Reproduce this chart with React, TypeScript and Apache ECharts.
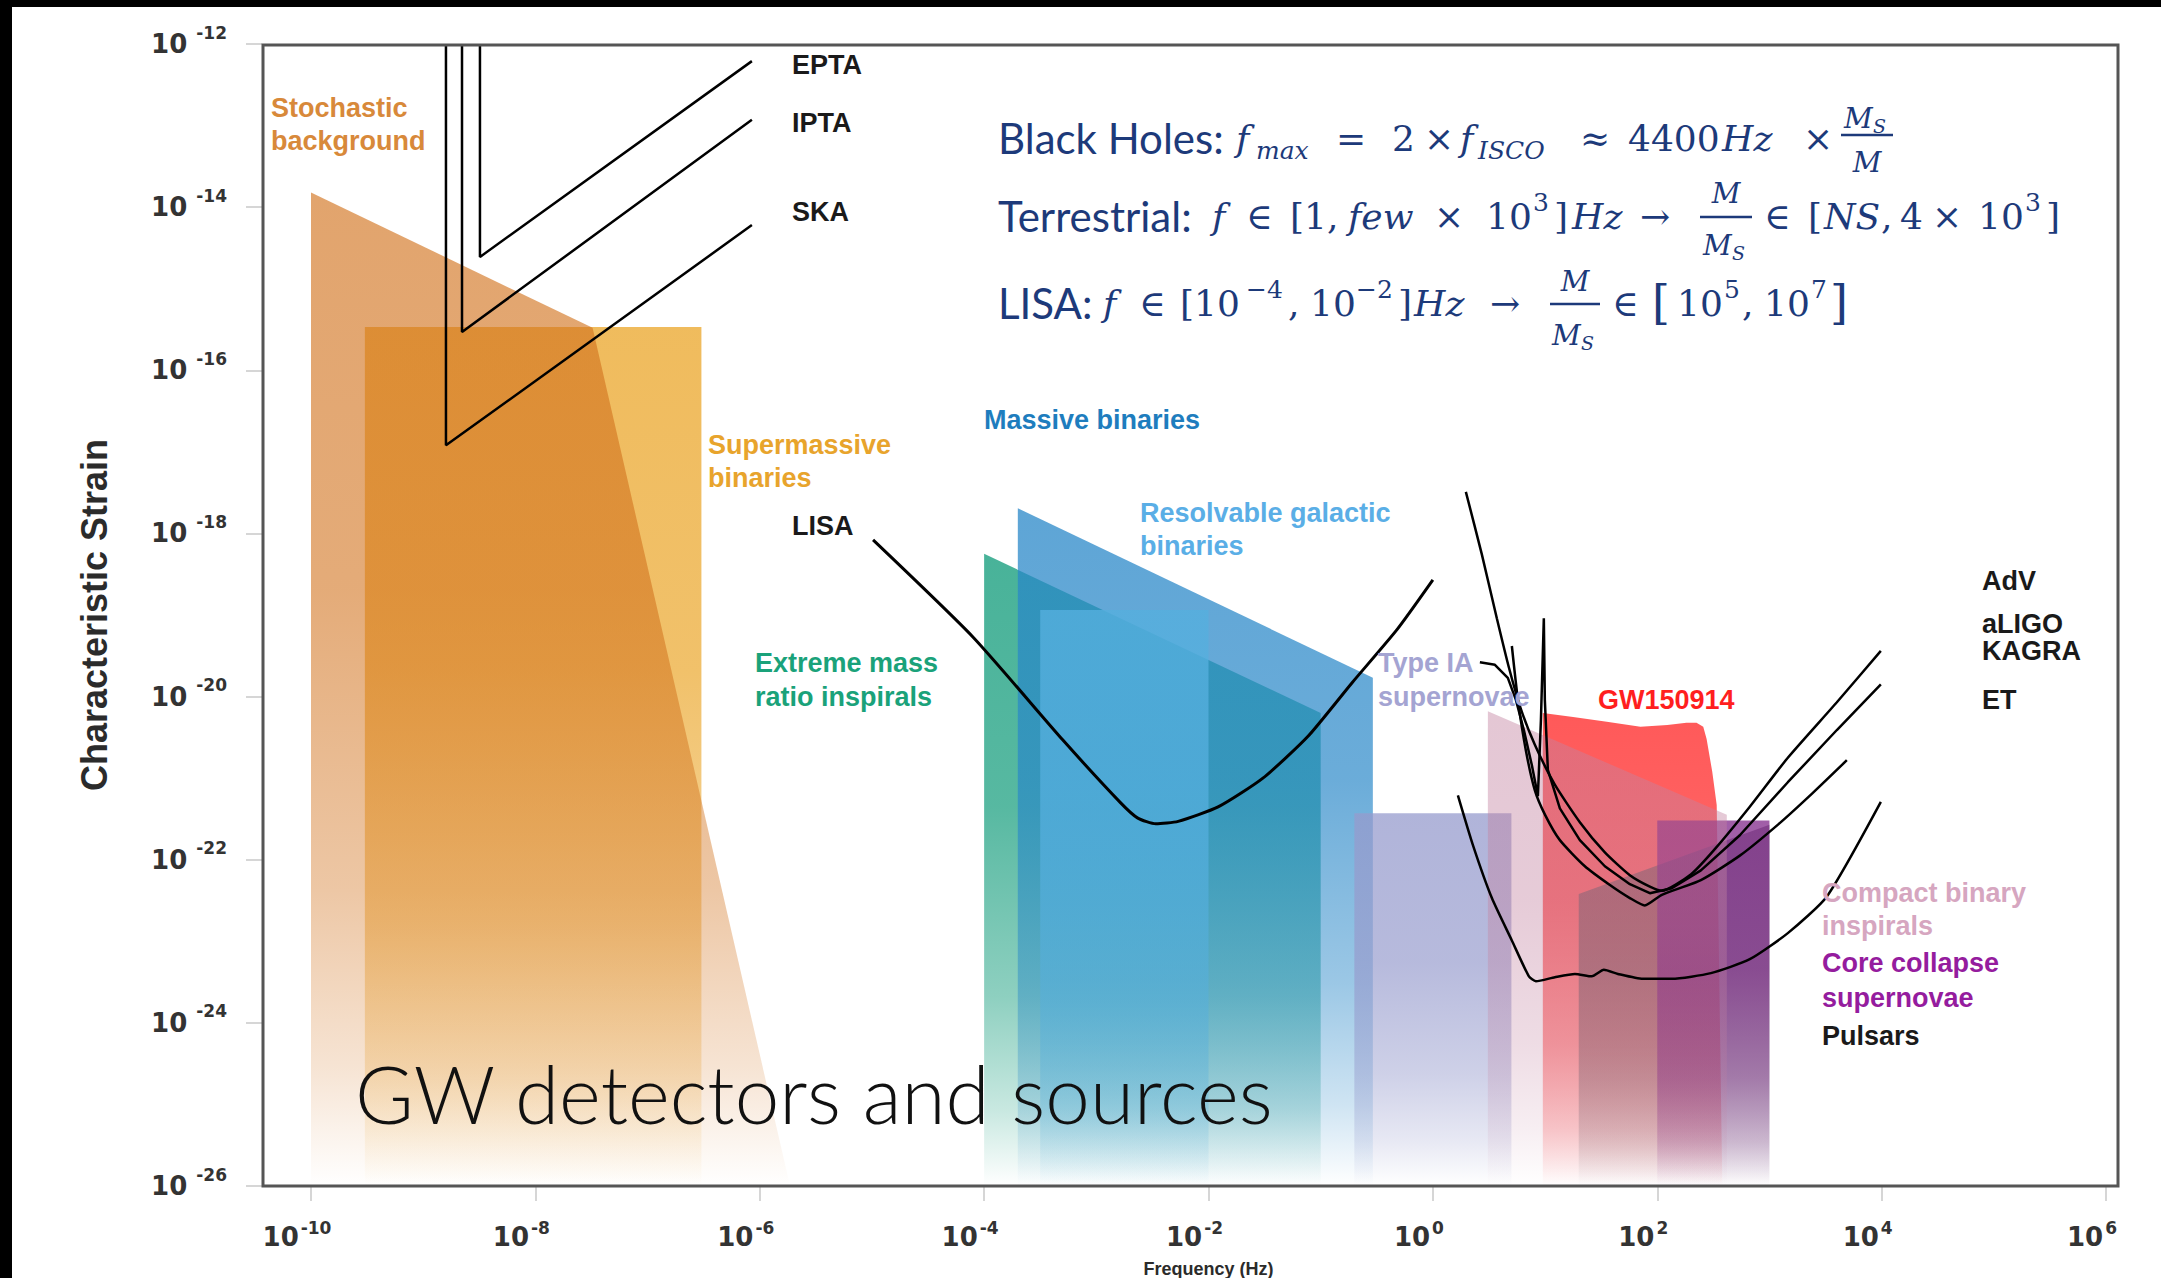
import React, { useEffect, useRef } from "react";
import * as echarts from "echarts";

// ---------- Axes (log10 values) ----------
const freqExponents = [-10, -8, -6, -4, -2, 0, 2, 4, 6];
const strainExponents = [-26, -24, -22, -20, -18, -16, -14, -12];

// ---------- Source regions: [log10 f (Hz), log10 h_c] ----------
const stochasticBackground = [[-10, -13.82], [-7.49, -15.48], [-5.73, -26], [-10, -26]];
const supermassiveBinaries = [[-9.52, -15.47], [-6.52, -15.47], [-6.52, -26], [-9.52, -26]];
const extremeMassRatio = [[-4, -18.25], [-1, -20.2], [-1, -26], [-4, -26]];
const massiveBinaries = [[-3.7, -17.69], [-0.535, -19.77], [-0.535, -26], [-3.7, -26]];
const resolvableGalactic = [[-3.5, -18.94], [-2.0, -18.94], [-2.0, -26], [-3.5, -26]];
const typeIASupernovae = [[-0.7, -21.43], [0.7, -21.43], [0.7, -26], [-0.7, -26]];
const gw150914 = [
  [0.98, -20.2], [1.25, -20.25], [1.55, -20.31], [1.85, -20.37], [2.09, -20.35],
  [2.26, -20.32], [2.35, -20.32], [2.41, -20.37], [2.44, -20.52], [2.49, -20.92],
  [2.53, -21.33], [2.58, -26], [0.98, -26],
];
const compactBinary = [[0.49, -20.18], [2.62, -21.45], [2.62, -26], [0.49, -26]];
const pulsars = [[1.3, -22.42], [3.0, -21.57], [3.0, -26], [1.3, -26]];
const coreCollapse = [[2.0, -21.52], [3.0, -21.52], [3.0, -26], [2.0, -26]];

// ---------- Detector sensitivity curves ----------
const epta = [[-8.494, -12], [-8.494, -14.61], [-6.07, -12.21]];
const ipta = [[-8.654, -12], [-8.654, -15.53], [-6.07, -12.93]];
const ska = [[-8.797, -12], [-8.797, -16.92], [-6.07, -14.22]];
const lisa = [
  [-4.99, -18.08], [-4.1, -19.27], [-3.3, -20.53], [-2.785, -21.3], [-2.63, -21.49],
  [-2.47, -21.56], [-2.27, -21.53], [-1.91, -21.35], [-1.515, -21.0], [-1.115, -20.49],
  [-0.72, -19.83], [-0.32, -19.18], [0.0, -18.57],
];
const adv = [
  [0.294, -17.49], [0.437, -18.26], [0.57, -19.04], [0.677, -19.64], [0.784, -20.15],
  [0.909, -20.59], [1.087, -21.08], [1.31, -21.54], [1.533, -21.91], [1.756, -22.19],
  [1.934, -22.33], [2.041, -22.38], [2.299, -22.18], [2.513, -21.87], [2.825, -21.35],
  [3.164, -20.75], [3.601, -20.07], [3.993, -19.44],
];
const aligo = [
  [0.419, -19.58], [0.553, -19.61], [0.668, -19.77], [0.74, -20.04], [0.811, -20.41],
  [0.882, -20.84], [0.936, -21.22], [0.963, -20.29], [0.989, -19.04], [0.998, -20.04],
  [1.025, -20.9], [1.132, -21.37], [1.31, -21.76], [1.533, -22.08], [1.756, -22.3],
  [1.934, -22.41], [2.13, -22.35], [2.389, -22.13], [2.736, -21.7], [3.164, -21.05],
  [3.601, -20.41], [3.993, -19.85],
];
const kagra = [
  [0.704, -19.38], [0.758, -20.04], [0.829, -20.66], [0.909, -21.15], [1.0, -21.45],
  [1.132, -21.76], [1.355, -22.08], [1.578, -22.31], [1.756, -22.47], [1.889, -22.56],
  [2.041, -22.43], [2.389, -22.25], [2.736, -21.95], [3.084, -21.56], [3.387, -21.18],
  [3.69, -20.78],
];
const et = [
  [0.223, -21.21], [0.357, -21.82], [0.526, -22.47], [0.704, -22.99], [0.856, -23.43],
  [0.918, -23.49], [1.087, -23.44], [1.266, -23.4], [1.417, -23.43], [1.524, -23.35],
  [1.649, -23.4], [1.872, -23.46], [2.13, -23.46], [2.478, -23.39], [2.825, -23.22],
  [3.164, -22.9], [3.512, -22.45], [3.993, -21.29],
];

// ---------- helpers ----------
const rgba = (c: number[], a: number) => `rgba(${c[0]},${c[1]},${c[2]},${a})`;
const fade = (c: number[], a: number) =>
  new echarts.graphic.LinearGradient(0, 0, 0, 1, [
    { offset: 0, color: rgba(c, a) },
    { offset: 0.4, color: rgba(c, a * 0.92) },
    { offset: 0.7, color: rgba(c, a * 0.62) },
    { offset: 0.88, color: rgba(c, a * 0.3) },
    { offset: 1, color: rgba(c, 0) },
  ]);

const area = (name: string, pts: number[][], c: number[], a: number) => ({
  type: "custom",
  name,
  coordinateSystem: "cartesian2d",
  silent: true,
  z: 2,
  data: pts,
  encode: { x: 0, y: 1 },
  renderItem: (params: any, api: any) => {
    if (params.dataIndex !== 0) return null;
    return {
      type: "polygon",
      shape: { points: pts.map((p) => api.coord(p)) },
      style: { fill: fade(c, a) },
    };
  },
});

const curve = (name: string, pts: number[][], w: number, smooth: number | boolean) => ({
  type: "line",
  name,
  data: pts,
  symbol: "none",
  showSymbol: false,
  smooth,
  z: 5,
  silent: true,
  clip: false,
  lineStyle: { color: "#000", width: w },
});

const txt = (x: number, y: number, text: string, font: string, fill: string, align = "left") => ({
  type: "text",
  z: 50,
  silent: true,
  style: {
    text, x, y, font, fill,
    align, verticalAlign: "middle",
    textAlign: align, textVerticalAlign: "middle",
  },
});

const LBL = 'bold 27px "Liberation Sans", Arial, sans-serif';
const NAVY = "#1d3a7a";
const F_SANS = '42px Lato, "Open Sans", sans-serif';
const F_M = '36px "DejaVu Serif", serif';
const F_I = 'italic 36px "DejaVu Serif", serif';
const F_SUB = 'italic 25px "DejaVu Serif", serif';
const F_SUP = '25px "DejaVu Serif", serif';
const F_BR = '46px "DejaVu Serif", serif';
const F_FR = 'italic 28px "DejaVu Serif", serif';
const F_FRS = 'italic 19px "DejaVu Serif", serif';

const plotLabels: [number, number, string, string][] = [
  [271, 108, "Stochastic", "#d8893a"],
  [271, 141, "background", "#d8893a"],
  [792, 65, "EPTA", "#1a1a1a"],
  [792, 123, "IPTA", "#1a1a1a"],
  [792, 212, "SKA", "#1a1a1a"],
  [708, 445, "Supermassive", "#e8a42c"],
  [708, 478, "binaries", "#e8a42c"],
  [792, 526, "LISA", "#1a1a1a"],
  [984, 420, "Massive binaries", "#1e7dbe"],
  [1140, 513, "Resolvable galactic", "#5aaee6"],
  [1140, 546, "binaries", "#5aaee6"],
  [755, 663, "Extreme mass", "#1aa27a"],
  [755, 697, "ratio inspirals", "#1aa27a"],
  [1378, 663, "Type IA", "#a4a4d2"],
  [1378, 697, "supernovae", "#a4a4d2"],
  [1598, 700, "GW150914", "#ff1f1f"],
  [1822, 893, "Compact binary", "#d6a6c0"],
  [1822, 926, "inspirals", "#d6a6c0"],
  [1822, 963, "Core collapse", "#951c9e"],
  [1822, 998, "supernovae", "#951c9e"],
  [1822, 1036, "Pulsars", "#1a1a1a"],
  [1982, 581, "AdV", "#1a1a1a"],
  [1982, 624, "aLIGO", "#1a1a1a"],
  [1982, 651, "KAGRA", "#1a1a1a"],
  [1982, 700, "ET", "#1a1a1a"],
];

const c1 = 138, c2 = 216, c3 = 303;
const formulaPieces: [number, number, string, string][] = [
  [998, c1, "Black Holes:", F_SANS],
  [1236, c1, "f", F_I], [1256, c1 + 12, "max", F_SUB],
  [1336, c1, "=", F_M], [1392, c1, "2", F_M], [1424, c1, "×", F_M],
  [1460, c1, "f", F_I], [1478, c1 + 12, "ISCO", F_SUB],
  [1580, c1, "≈", F_M], [1628, c1, "4400", F_M], [1722, c1, "Hz", F_I], [1803, c1, "×", F_M],

  [998, c2, "Terrestrial:", F_SANS],
  [1212, c2, "f", F_I], [1246, c2, "∈", F_M], [1290, c2, "[1,", F_M], [1348, c2, "few", F_I],
  [1434, c2, "×", F_M], [1486, c2, "10", F_M], [1533, c2 - 14, "3", F_SUP], [1554, c2, "]", F_M],
  [1572, c2, "Hz", F_I], [1640, c2, "→", F_M],
  [1764, c2, "∈", F_M], [1808, c2, "[", F_M], [1824, c2, "NS", F_I], [1881, c2, ",", F_M],
  [1900, c2, "4", F_M], [1932, c2, "×", F_M], [1978, c2, "10", F_M], [2025, c2 - 14, "3", F_SUP],
  [2046, c2, "]", F_M],

  [998, c3, "LISA:", F_SANS],
  [1103, c3, "f", F_I], [1139, c3, "∈", F_M], [1180, c3, "[10", F_M], [1246, c3 - 14, "−4", F_SUP],
  [1288, c3, ",", F_M], [1310, c3, "10", F_M], [1356, c3 - 14, "−2", F_SUP], [1398, c3, "]", F_M],
  [1414, c3, "Hz", F_I], [1490, c3, "→", F_M],
  [1612, c3, "∈", F_M], [1652, c3, "[", F_BR], [1677, c3, "10", F_M], [1724, c3 - 14, "5", F_SUP],
  [1742, c3, ",", F_M], [1764, c3, "10", F_M], [1811, c3 - 14, "7", F_SUP], [1830, c3, "]", F_BR],
];

// fraction: cx, numerator y, bar y, denominator y, bar half-width, numerator has subscript S
const fractions: [number, number, number, number, number, boolean][] = [
  [1867, 118, 135, 162, 26, true],
  [1726, 193, 217, 245, 26, false],
  [1575, 281, 304, 335, 25, false],
];

function buildGraphics() {
  const els: any[] = [];
  els.push({ type: "rect", z: 60, silent: true, shape: { x: 0, y: 0, width: 2161, height: 7 }, style: { fill: "#000" } });
  els.push({ type: "rect", z: 60, silent: true, shape: { x: 0, y: 0, width: 12, height: 1278 }, style: { fill: "#000" } });
  els.push({
    type: "rect", z: 20, silent: true,
    shape: { x: 263, y: 45, width: 1855, height: 1141 },
    style: { fill: "none", stroke: "#555", lineWidth: 3 },
  });
  plotLabels.forEach(([x, y, t, col]) => els.push(txt(x, y, t, LBL, col)));
  formulaPieces.forEach(([x, y, t, f]) => els.push(txt(x, y, t, f, NAVY)));
  fractions.forEach(([cx, ny, by, dy, hw, numSub]) => {
    els.push({
      type: "line", z: 50, silent: true,
      shape: { x1: cx - hw, y1: by, x2: cx + hw, y2: by },
      style: { stroke: NAVY, lineWidth: 2.5 },
    });
    if (numSub) {
      els.push(txt(cx - 23, ny, "M", F_FR, NAVY));
      els.push(txt(cx + 6, ny + 8, "S", F_FRS, NAVY));
      els.push(txt(cx, dy, "M", F_FR, NAVY, "center"));
    } else {
      els.push(txt(cx, ny, "M", F_FR, NAVY, "center"));
      els.push(txt(cx - 23, dy, "M", F_FR, NAVY));
      els.push(txt(cx + 6, dy + 8, "S", F_FRS, NAVY));
    }
  });
  els.push(txt(355, 1093, "GW detectors and sources", '300 80px Lato, "Open Sans", sans-serif', "#111"));
  return els;
}

const tickFont = "DejaVu Sans";

export default function App() {
  const ref = useRef<HTMLDivElement>(null);
  useEffect(() => {
    const chart = echarts.init(ref.current!, null, { renderer: "svg" });
    const option: any = {
      animation: false,
      backgroundColor: "#ffffff",
      grid: { left: 311, right: 55, top: 44, bottom: 92, containLabel: false, outerBoundsMode: "none" },
      xAxis: {
        type: "value",
        min: freqExponents[0],
        max: freqExponents[freqExponents.length - 1],
        interval: 2,
        axisLine: { show: false, onZero: false },
        splitLine: { show: false },
        axisTick: { show: true, length: 15, lineStyle: { color: "#c8c8c8", width: 1.5 } },
        axisLabel: {
          showMinLabel: true,
          showMaxLabel: true,
          margin: 33,
          padding: [0, 28, 0, 0],
          fontFamily: tickFont,
          fontWeight: "bold",
          fontSize: 26,
          lineHeight: 36,
          color: "#333",
          formatter: (v: number) => `{b|10}{s|${Math.round(v)}}`,
          rich: {
            b: { fontFamily: tickFont, fontWeight: "bold", fontSize: 26, lineHeight: 36, color: "#333" },
            s: { fontFamily: tickFont, fontWeight: "bold", fontSize: 17, lineHeight: 14, verticalAlign: "top", color: "#333", padding: [0, 0, 0, 2] },
          },
        },
        name: "Frequency (Hz)",
        nameLocation: "middle",
        nameGap: 72,
        nameTextStyle: { fontFamily: "Liberation Sans", fontWeight: "bold", fontSize: 18, color: "#2b2b2b" },
      },
      yAxis: {
        type: "value",
        min: strainExponents[0],
        max: strainExponents[strainExponents.length - 1],
        interval: 2,
        offset: 49,
        axisLine: { show: false, onZero: false },
        splitLine: { show: false },
        axisTick: { show: true, length: 16, lineStyle: { color: "#c8c8c8", width: 1.5 } },
        axisLabel: {
          showMinLabel: true,
          showMaxLabel: true,
          margin: 35,
          fontFamily: tickFont,
          fontWeight: "bold",
          fontSize: 26,
          lineHeight: 40,
          color: "#333",
          formatter: (v: number) => `{b|10} {s|${Math.round(v)}}`,
          rich: {
            b: { fontFamily: tickFont, fontWeight: "bold", fontSize: 26, lineHeight: 40, color: "#333" },
            s: { fontFamily: tickFont, fontWeight: "bold", fontSize: 17, lineHeight: 26, verticalAlign: "top", color: "#333" },
          },
        },
        name: "Characteristic Strain",
        nameLocation: "middle",
        nameRotate: 90,
        nameGap: 150,
        nameTextStyle: { fontFamily: "Liberation Sans", fontWeight: "bold", fontSize: 36, color: "#2b2b2b" },
      },
      series: [
        area("Supermassive binaries", supermassiveBinaries, [238, 180, 75], 0.9),
        area("Stochastic background", stochasticBackground, [210, 115, 30], 0.65),
        area("Extreme mass ratio inspirals", extremeMassRatio, [40, 165, 135], 0.85),
        area("Massive binaries", massiveBinaries, [40, 135, 200], 0.75),
        area("Resolvable galactic binaries", resolvableGalactic, [85, 175, 222], 0.8),
        area("Type IA supernovae", typeIASupernovae, [150, 155, 205], 0.75),
        area("GW150914", gw150914, [255, 60, 60], 0.85),
        area("Pulsars", pulsars, [80, 80, 90], 0.55),
        area("Core collapse supernovae", coreCollapse, [120, 25, 130], 0.7),
        area("Compact binary inspirals", compactBinary, [195, 130, 160], 0.45),
        curve("EPTA", epta, 2.5, false),
        curve("IPTA", ipta, 2.5, false),
        curve("SKA", ska, 2.5, false),
        curve("LISA", lisa, 3, 0.2),
        curve("AdV", adv, 2.5, 0.2),
        curve("aLIGO", aligo, 2.5, false),
        curve("KAGRA", kagra, 2.5, 0.2),
        curve("ET", et, 2.5, 0.2),
      ],
      graphic: { elements: buildGraphics() },
    };
    chart.setOption(option);
    return () => chart.dispose();
  }, []);
  return (
    <div
      ref={ref}
      style={{ position: "absolute", left: 0, top: 0, width: 2161, height: 1278, background: "#fff" }}
    />
  );
}
